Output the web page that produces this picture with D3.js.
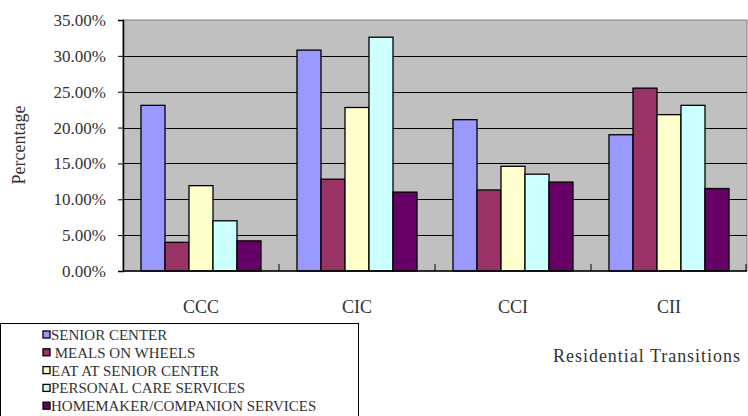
<!DOCTYPE html>
<html>
<head>
<meta charset="utf-8">
<script src="https://cdn.jsdelivr.net/npm/d3@7"></script>
<style>
  body { margin: 0; background: #fff; }
</style>
</head>
<body>
<svg width="748" height="416"></svg>
<script>
var categories = ["CCC", "CIC", "CCI", "CII"];
var services = ["SENIOR CENTER", " MEALS ON WHEELS", "EAT AT SENIOR CENTER",
                "PERSONAL CARE SERVICES", "HOMEMAKER/COMPANION SERVICES"];
var colors = ["#9999FF", "#993366", "#FFFFCC", "#CCFFFF", "#660066"];

// percentages, one array per service, in category order
var seniorCenter = [23.1, 30.8, 21.1, 19.0];
var mealsOnWheels = [4.0, 12.8, 11.3, 25.5];
var eatAtCenter = [11.9, 22.8, 14.6, 21.8];
var personalCare = [7.0, 32.6, 13.5, 23.1];
var homemaker = [4.2, 11.0, 12.4, 11.5];
var series = [seniorCenter, mealsOnWheels, eatAtCenter, personalCare, homemaker];

var yTicks = [0, 5, 10, 15, 20, 25, 30, 35];

var serif = "'Liberation Serif', 'Times New Roman', Times, serif";
var svg = d3.select("svg");
var plotL = 123, plotR = 747, plotT = 20, plotB = 271;

var x0 = d3.scaleBand().domain(categories).range([plotL, plotR]).paddingInner(0).paddingOuter(0);
var x1 = d3.scaleBand().domain(d3.range(services.length))
    .range([0, x0.bandwidth()]).paddingInner(0).paddingOuter(0.75);
var y = d3.scaleLinear().domain([0, 35]).range([plotB, plotT]);

// plot background
svg.append("rect")
    .attr("x", plotL).attr("y", plotT)
    .attr("width", plotR - plotL).attr("height", plotB - plotT)
    .attr("fill", "#C0C0C0")
    .attr("stroke", "#808080").attr("stroke-width", 1);

// gridlines
svg.append("g").selectAll("line")
  .data(yTicks.slice(1, -1))
  .enter().append("line")
    .attr("x1", plotL).attr("x2", plotR)
    .attr("y1", function(d) { return Math.round(y(d)) + 0.5; })
    .attr("y2", function(d) { return Math.round(y(d)) + 0.5; })
    .attr("stroke", "#000").attr("stroke-width", 1);

// bars
var groups = svg.append("g").selectAll("g")
  .data(categories)
  .enter().append("g")
    .attr("transform", function(d) { return "translate(" + x0(d) + ",0)"; });

groups.selectAll("rect")
  .data(function(c, ci) { return series.map(function(s, si) { return {si: si, v: s[ci]}; }); })
  .enter().append("rect")
    .attr("x", function(d) { return x1(d.si); })
    .attr("width", x1.bandwidth())
    .attr("y", function(d) { return y(d.v); })
    .attr("height", function(d) { return y(0) - y(d.v); })
    .attr("fill", function(d) { return colors[d.si]; })
    .attr("stroke", "#000").attr("stroke-width", 1.3);

// y axis
var yAxis = svg.append("g")
    .attr("transform", "translate(" + plotL + ",0)")
    .call(d3.axisLeft(y).tickValues(yTicks).tickSize(5).tickPadding(12)
      .tickFormat(function(d) { return d3.format(".2f")(d) + "%"; }));
yAxis.attr("font-family", serif).attr("font-size", 17);
yAxis.select(".domain").attr("stroke", "#000").attr("stroke-width", 1.5);
yAxis.selectAll("text").attr("fill", "#333");

// x axis
var xAxis = svg.append("g")
    .attr("transform", "translate(0," + plotB + ")")
    .attr("font-family", serif);
xAxis.append("line")
    .attr("x1", plotL).attr("x2", plotR).attr("y1", 0).attr("y2", 0)
    .attr("stroke", "#000").attr("stroke-width", 1.5);
xAxis.selectAll("line.tick")
  .data(categories.slice(1).concat([null]))
  .enter().append("line")
    .attr("class", "tick")
    .attr("x1", function(d) { return d ? x0(d) : plotR - 1; })
    .attr("x2", function(d) { return d ? x0(d) : plotR - 1; })
    .attr("y1", -7).attr("y2", 0)
    .attr("stroke", "#000").attr("stroke-width", 1);
xAxis.selectAll("text")
  .data(categories)
  .enter().append("text")
    .attr("x", function(d) { return x0(d) + x0.bandwidth() / 2; })
    .attr("y", 42)
    .attr("text-anchor", "middle")
    .attr("font-size", 18)
    .attr("fill", "#333")
    .text(function(d) { return d; });

// axis titles
svg.append("text")
    .attr("transform", "translate(25,145) rotate(-90)")
    .attr("text-anchor", "middle")
    .attr("font-family", serif)
    .attr("font-size", 18)
    .attr("fill", "#333")
    .text("Percentage");

svg.append("text")
    .attr("x", 553).attr("y", 362)
    .attr("font-family", serif)
    .attr("font-size", 18)
    .attr("textLength", 187)
    .attr("fill", "#333")
    .text("Residential Transitions");

// legend
var legend = svg.append("g").attr("font-family", serif);
legend.append("rect")
    .attr("x", 0.5).attr("y", 323.5)
    .attr("width", 358).attr("height", 110)
    .attr("fill", "#fff").attr("stroke", "#000").attr("stroke-width", 1);

var item = legend.selectAll("g.item")
  .data(services)
  .enter().append("g")
    .attr("class", "item")
    .attr("transform", function(d, i) { return "translate(43," + (331 + i * 17.8) + ")"; });
item.append("rect")
    .attr("width", 7).attr("height", 7)
    .attr("fill", function(d, i) { return colors[i]; })
    .attr("stroke", "#000").attr("stroke-width", 1.3);
item.append("text")
    .attr("x", 8).attr("y", 9)
    .attr("font-size", 15)
    .attr("fill", "#333")
    .style("white-space", "pre")
    .text(function(d) { return d; });
</script>
</body>
</html>
